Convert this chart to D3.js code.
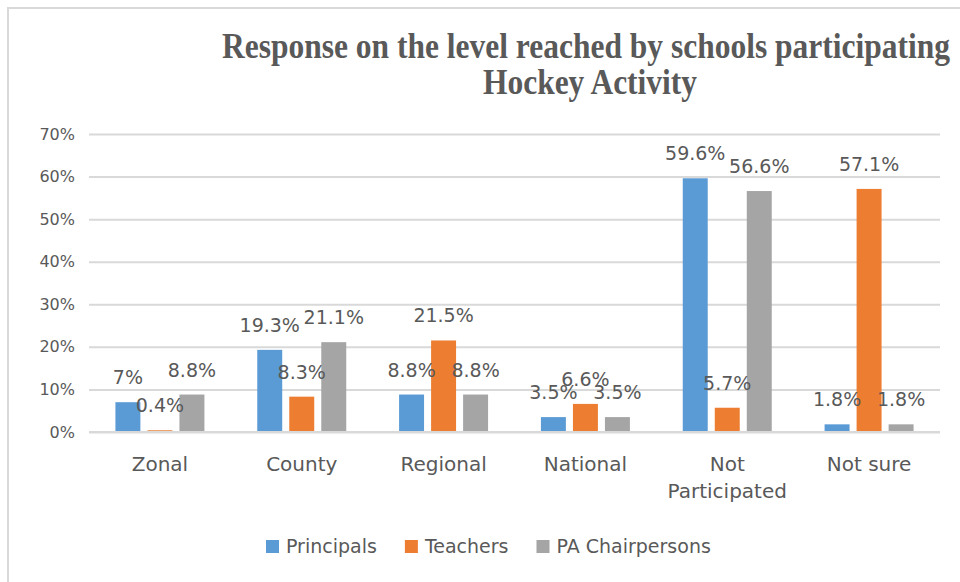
<!DOCTYPE html>
<html>
<head>
<meta charset="utf-8">
<script src="https://cdn.jsdelivr.net/npm/d3@7"></script>
<style>
  html, body { margin: 0; padding: 0; background: #fff; }
  svg { display: block; }
</style>
</head>
<body>
<svg id="chart" width="960" height="582"></svg>
<script>
// Survey responses: level reached by schools participating in hockey (percent)
const categories = [["Zonal"], ["County"], ["Regional"], ["National"], ["Not", "Participated"], ["Not sure"]];
const seriesNames = ["Principals", "Teachers", "PA Chairpersons"];
const principals = [7, 19.3, 8.8, 3.5, 59.6, 1.8];
const teachers = [0.4, 8.3, 21.5, 6.6, 5.7, 57.1];
const paChairpersons = [8.8, 21.1, 8.8, 3.5, 56.6, 1.8];
const yTicks = [0, 10, 20, 30, 40, 50, 60, 70];
const colors = ["#5b9bd5", "#ed7d31", "#a5a5a5"];

const seriesValues = [principals, teachers, paChairpersons];
const catKeys = categories.map(c => c.join(" "));

const svg = d3.select("#chart");
const textColor = "#595959";
const gridColor = "#d9d9d9";

// outer chart frame
svg.append("rect")
  .attr("x", 8).attr("y", 8)
  .attr("width", 1000).attr("height", 600)
  .attr("fill", "none").attr("stroke", gridColor).attr("stroke-width", 2);

const plot = { left: 89, right: 940, top: 134, bottom: 432 };

const x0 = d3.scaleBand().domain(catKeys).range([plot.left, plot.right]).padding(0);
const groupWidth = 89;
const x1 = d3.scaleBand().domain(seriesNames).range([0, groupWidth]).paddingInner(0.22).paddingOuter(0);
const y = d3.scaleLinear().domain([0, 70]).range([plot.bottom, plot.top]);

// title
const title = svg.append("g")
  .attr("font-family", "'Liberation Serif', 'Times New Roman', serif")
  .attr("font-weight", "bold")
  .attr("fill", textColor);
[["Response on the level reached by schools participating", 222, 58, 728],
 ["Hockey Activity", 483, 94, 214]].forEach(([t, tx, ty, len]) => {
  title.append("text")
    .attr("transform", `translate(${tx},${ty}) scale(1,1.3)`)
    .attr("font-size", 28)
    .attr("textLength", len)
    .attr("lengthAdjust", "spacingAndGlyphs")
    .text(t);
});

// gridlines and y axis labels
const yAxis = d3.axisLeft(y)
  .tickValues(yTicks)
  .tickSize(-(plot.right - plot.left))
  .tickPadding(14)
  .tickFormat(d => d + "%");
const yg = svg.append("g")
  .attr("transform", `translate(${plot.left},0)`)
  .call(yAxis);
yg.select(".domain").remove();
yg.selectAll(".tick line").attr("stroke", gridColor).attr("stroke-width", 2);
yg.selectAll(".tick text")
  .attr("font-family", "'DejaVu Sans', sans-serif")
  .attr("font-size", 16)
  .attr("fill", textColor);

// bars
const groups = svg.append("g").selectAll("g")
  .data(catKeys)
  .join("g")
  .attr("transform", d => `translate(${x0(d) + (x0.bandwidth() - groupWidth) / 2},0)`);

groups.each(function (cat, ci) {
  const g = d3.select(this);
  seriesNames.forEach((s, si) => {
    const v = seriesValues[si][ci];
    g.append("rect")
      .attr("x", x1(s))
      .attr("y", y(v))
      .attr("width", x1.bandwidth())
      .attr("height", y(0) - y(v))
      .attr("fill", colors[si]);
  });
});

// data labels
groups.each(function (cat, ci) {
  const g = d3.select(this);
  seriesNames.forEach((s, si) => {
    const v = seriesValues[si][ci];
    g.append("text")
      .attr("x", x1(s) + x1.bandwidth() / 2)
      .attr("y", y(v) - 18)
      .attr("text-anchor", "middle")
      .attr("font-family", "'DejaVu Sans', sans-serif")
      .attr("font-size", 19)
      .attr("fill", textColor)
      .text(v + "%");
  });
});

// category axis
const xg = svg.append("g").attr("transform", `translate(0,${plot.bottom})`);
xg.append("line")
  .attr("x1", plot.left).attr("x2", plot.right)
  .attr("stroke", gridColor).attr("stroke-width", 2);
categories.forEach((lines, i) => {
  const t = xg.append("text")
    .attr("x", x0(catKeys[i]) + x0.bandwidth() / 2)
    .attr("y", 39)
    .attr("text-anchor", "middle")
    .attr("font-family", "'DejaVu Sans', sans-serif")
    .attr("font-size", 20)
    .attr("fill", textColor);
  lines.forEach((ln, li) => {
    t.append("tspan")
      .attr("x", x0(catKeys[i]) + x0.bandwidth() / 2)
      .attr("dy", li === 0 ? 0 : 27)
      .text(ln);
  });
});

// legend
const legend = svg.append("g").attr("transform", "translate(266,553)");
let lx = 0;
seriesNames.forEach((s, i) => {
  const item = legend.append("g").attr("transform", `translate(${lx},0)`);
  item.append("rect")
    .attr("x", 0).attr("y", -13)
    .attr("width", 13).attr("height", 13)
    .attr("fill", colors[i]);
  const t = item.append("text")
    .attr("x", 20)
    .attr("font-family", "'DejaVu Sans', sans-serif")
    .attr("font-size", 19)
    .attr("fill", textColor)
    .text(s);
  lx += 20 + t.node().getComputedTextLength() + 28;
});
</script>
</body>
</html>
